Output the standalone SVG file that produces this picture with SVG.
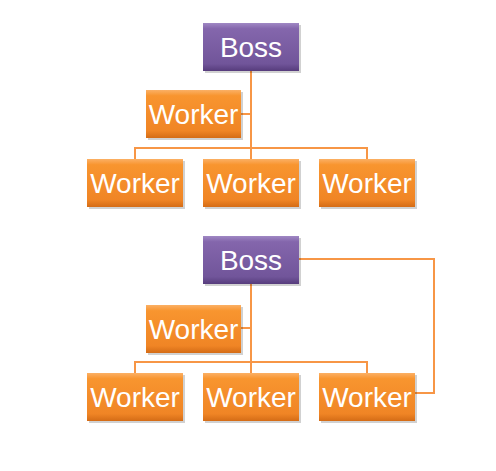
<svg xmlns="http://www.w3.org/2000/svg" width="496" height="471" viewBox="0 0 496 471">
<style>
.lnk{fill:none;stroke:#F79646;stroke-width:2}
.t{font-family:"Liberation Sans",Arial,sans-serif;font-size:28px;fill:#fff;text-anchor:middle}
.sh{fill:#000;opacity:0.18}
</style>
<defs>
<linearGradient id="og" x1="0" y1="0" x2="0" y2="1">
<stop offset="0" stop-color="#FBB065"/>
<stop offset="0.12" stop-color="#F8952F"/>
<stop offset="0.85" stop-color="#F08525"/>
<stop offset="1" stop-color="#D46C16"/>
</linearGradient>
<linearGradient id="pg" x1="0" y1="0" x2="0" y2="1">
<stop offset="0" stop-color="#A088C4"/>
<stop offset="0.12" stop-color="#8466AC"/>
<stop offset="0.85" stop-color="#71559A"/>
<stop offset="1" stop-color="#563C7C"/>
</linearGradient>
</defs>
<g id="connectors">
<path class="lnk" d="M251 71V147M241 114H251M135 159V148H367V159M251 148V159"/>
<path class="lnk" d="M251 284V362M241 328H251M135 373V362H367V373M251 362V373"/>
<path class="lnk" d="M299 259H434V393H415"/>
</g>
<g id="boss1"><rect class="sh" x="205" y="25" width="96" height="48"/><rect x="203" y="23" width="96" height="48" fill="url(#pg)"/><text class="t" x="251" y="57">Boss</text></g>
<g id="asst1"><rect class="sh" x="148" y="92" width="95" height="48"/><rect x="146" y="90" width="95" height="48" fill="url(#og)"/><text class="t" x="193.5" y="124">Worker</text></g>
<g id="w1a"><rect class="sh" x="89" y="161" width="96" height="48"/><rect x="87" y="159" width="96" height="48" fill="url(#og)"/><text class="t" x="135" y="193">Worker</text></g>
<g id="w1b"><rect class="sh" x="205" y="161" width="96" height="48"/><rect x="203" y="159" width="96" height="48" fill="url(#og)"/><text class="t" x="251" y="193">Worker</text></g>
<g id="w1c"><rect class="sh" x="321" y="161" width="96" height="48"/><rect x="319" y="159" width="96" height="48" fill="url(#og)"/><text class="t" x="367" y="193">Worker</text></g>
<g id="boss2"><rect class="sh" x="205" y="238" width="96" height="48"/><rect x="203" y="236" width="96" height="48" fill="url(#pg)"/><text class="t" x="251" y="270">Boss</text></g>
<g id="asst2"><rect class="sh" x="148" y="307" width="95" height="48"/><rect x="146" y="305" width="95" height="48" fill="url(#og)"/><text class="t" x="193.5" y="339">Worker</text></g>
<g id="w2a"><rect class="sh" x="89" y="375" width="96" height="48"/><rect x="87" y="373" width="96" height="48" fill="url(#og)"/><text class="t" x="135" y="407">Worker</text></g>
<g id="w2b"><rect class="sh" x="205" y="375" width="96" height="48"/><rect x="203" y="373" width="96" height="48" fill="url(#og)"/><text class="t" x="251" y="407">Worker</text></g>
<g id="w2c"><rect class="sh" x="321" y="375" width="96" height="48"/><rect x="319" y="373" width="96" height="48" fill="url(#og)"/><text class="t" x="367" y="407">Worker</text></g>
</svg>
